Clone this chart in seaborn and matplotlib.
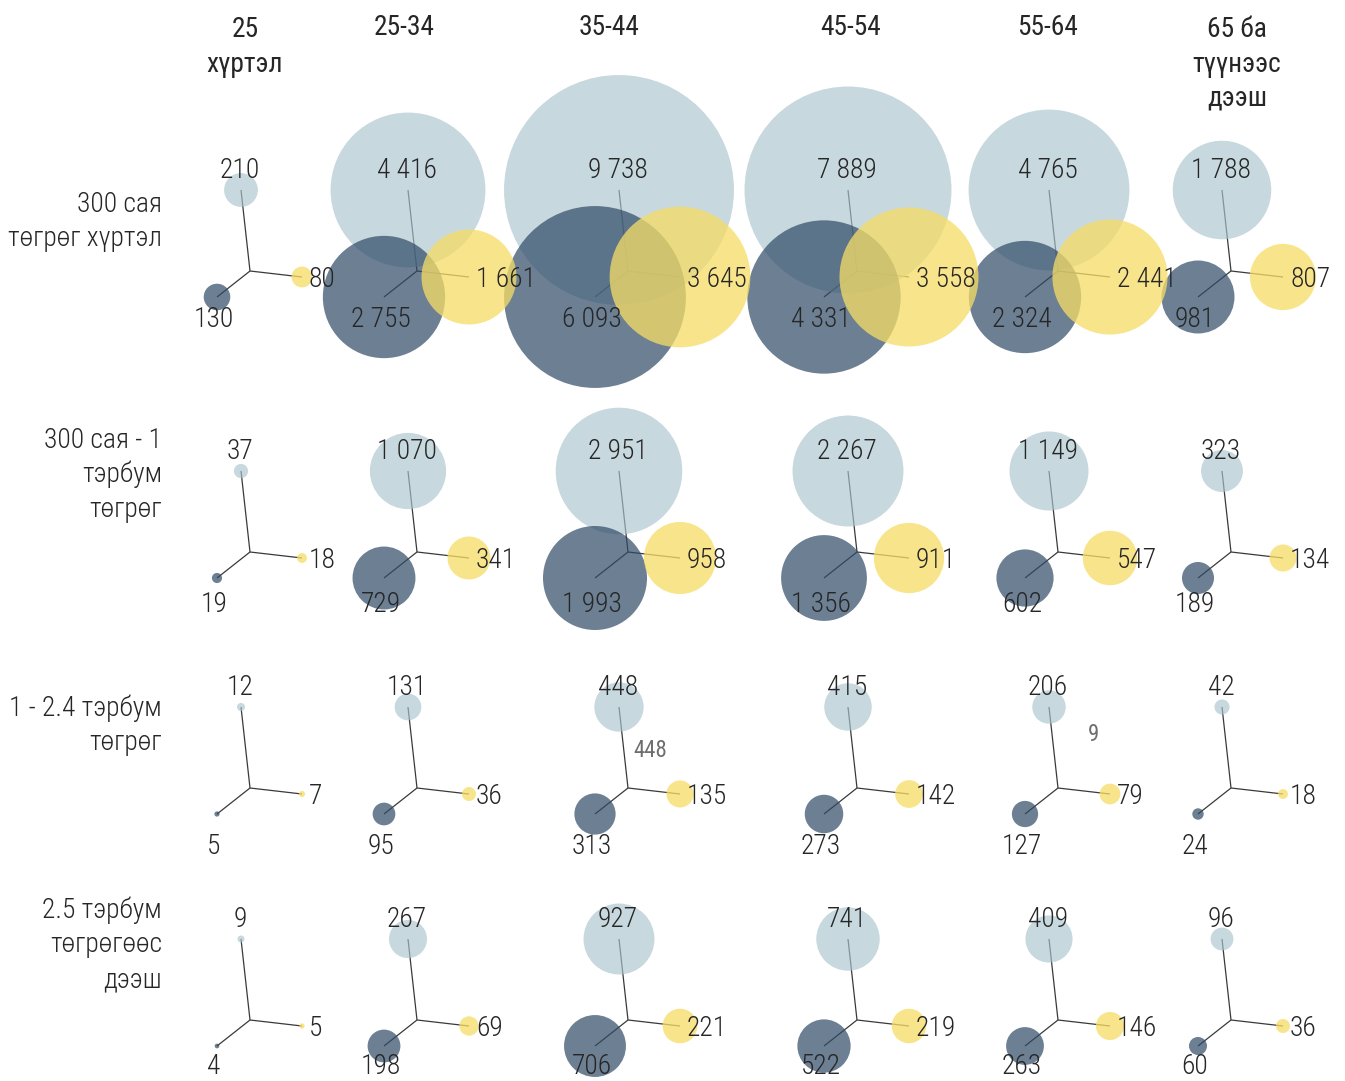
import numpy as np
import pandas as pd
import matplotlib
matplotlib.use("Agg")
import matplotlib.pyplot as plt
import seaborn as sns

# ------------------------------------------------------------------ data
age_groups = ["25\nхүртэл", "25-34", "35-44", "45-54", "55-64", "65 ба\nтүүнээс\nдээш"]
income_groups = ["300 сая\nтөгрөг хүртэл",
                 "300 сая - 1\nтэрбум\nтөгрөг",
                 "1 - 2.4 тэрбум\nтөгрөг",
                 "2.5 тэрбум\nтөгрөгөөс\nдээш"]

# upper arm (light blue-grey)
top_values = [
    [210, 4416, 9738, 7889, 4765, 1788],
    [37, 1070, 2951, 2267, 1149, 323],
    [12, 131, 448, 415, 206, 42],
    [9, 267, 927, 741, 409, 96],
]
# lower-left arm (dark slate)
left_values = [
    [130, 2755, 6093, 4331, 2324, 981],
    [19, 729, 1993, 1356, 602, 189],
    [5, 95, 313, 273, 127, 24],
    [4, 198, 706, 522, 263, 60],
]
# right arm (yellow)
right_values = [
    [80, 1661, 3645, 3558, 2441, 807],
    [18, 341, 958, 911, 547, 134],
    [7, 36, 135, 142, 79, 18],
    [5, 69, 221, 219, 146, 36],
]
# stray grey annotations visible in the source
stray_notes = [(2, 2, "448"), (2, 4, "9")]

# ------------------------------------------------------------------ layout / style
W, H, DPI = 1345, 1081, 100
col_x = [250, 417, 628, 857, 1058, 1231]
row_y = [271, 552, 788, 1020]
header_x = [245, 404, 609, 851, 1048, 1237]
row_label_x = 162
row_label_base = [212, 448, 716, 918]
line_pitch = 34.5
dark_label_dy = [30, 34, 40, 28]
arm = {"top": (-9, -81), "left": (-33, 26), "right": (52, 6)}
style = {
    "top": dict(color="#a9c3cd", alpha=0.65, z=2),
    "left": dict(color="#2f4a66", alpha=0.70, z=3),
    "right": dict(color="#f6dd67", alpha=0.76, z=4),
}
stray_offsets = [(5, -31), (30, -47)]
px_per_sqrt = 1.165  # circle radius in px per sqrt(value)
FS = 19.8

FONT = ["Roboto Condensed", "Roboto", "DejaVu Sans"]
sns.set_theme(style="white")
plt.rcParams["font.family"] = FONT

# ------------------------------------------------------------------ long table
recs = []
for key, vals in (("top", top_values), ("left", left_values), ("right", right_values)):
    for r, inc in enumerate(income_groups):
        for c, age in enumerate(age_groups):
            dx, dy = arm[key]
            recs.append(dict(series=key, row=r, col=c, value=vals[r][c],
                             cx=col_x[c], cy=row_y[r],
                             x=col_x[c] + dx, y=row_y[r] + dy))
df = pd.DataFrame(recs)

fig = plt.figure(figsize=(W / DPI, H / DPI), dpi=DPI)
ax = fig.add_axes([0, 0, 1, 1])

# arms
for _, rr in df.iterrows():
    ax.plot([rr.cx, rr.x], [rr.cy, rr.y], color="#3a3a3a", lw=0.9, zorder=1,
            solid_capstyle="butt")

# circles (area proportional to value)
vmax = df["value"].max()
pt_per_px = 72 / DPI
smax = (2 * px_per_sqrt * np.sqrt(vmax) * pt_per_px) ** 2
for key in ("top", "left", "right"):
    st = style[key]
    sns.scatterplot(data=df[df.series == key], x="x", y="y", size="value",
                    sizes=(0, smax), size_norm=(0, vmax), color=st["color"],
                    alpha=st["alpha"], linewidth=0, legend=False, ax=ax,
                    zorder=st["z"])

def fmt(v):
    return f"{v:,}".replace(",", " ")

num_kw = dict(fontsize=FS, color="#262626", fontweight="light", zorder=10)
for _, rr in df.iterrows():
    if rr.series == "top":
        ax.text(rr.x - 1, rr.cy - 93, fmt(rr.value), ha="center", va="baseline", **num_kw)
    elif rr.series == "left":
        ax.text(rr.x - 3, rr.y + dark_label_dy[rr.row], fmt(rr.value), ha="center",
                va="baseline", **num_kw)
    else:
        ax.text(rr.x + 7, rr.cy + 16, fmt(rr.value), ha="left", va="baseline", **num_kw)

# stray grey notes
for (r, c, t), (dx, dy) in zip(stray_notes, stray_offsets):
    ax.text(col_x[c] + dx, row_y[r] + dy, t, ha="left", va="baseline",
            fontsize=16.5, color="#6e6e6e", fontweight="normal", zorder=10)

# column headers
for c, lab in enumerate(age_groups):
    lines = lab.split("\n")
    base = 37 if len(lines) > 1 else 35
    for i, ln in enumerate(lines):
        ax.text(header_x[c], base + i * line_pitch, ln, ha="center", va="baseline",
                fontsize=FS, color="#262626", fontweight="normal")

# row labels
for r, lab in enumerate(income_groups):
    for i, ln in enumerate(lab.split("\n")):
        ax.text(row_label_x, row_label_base[r] + i * line_pitch, ln, ha="right",
                va="baseline", fontsize=FS, color="#262626", fontweight="light")

ax.set_xlim(0, W)
ax.set_ylim(H, 0)
ax.axis("off")
fig.savefig("out.png", dpi=DPI, facecolor="white")
